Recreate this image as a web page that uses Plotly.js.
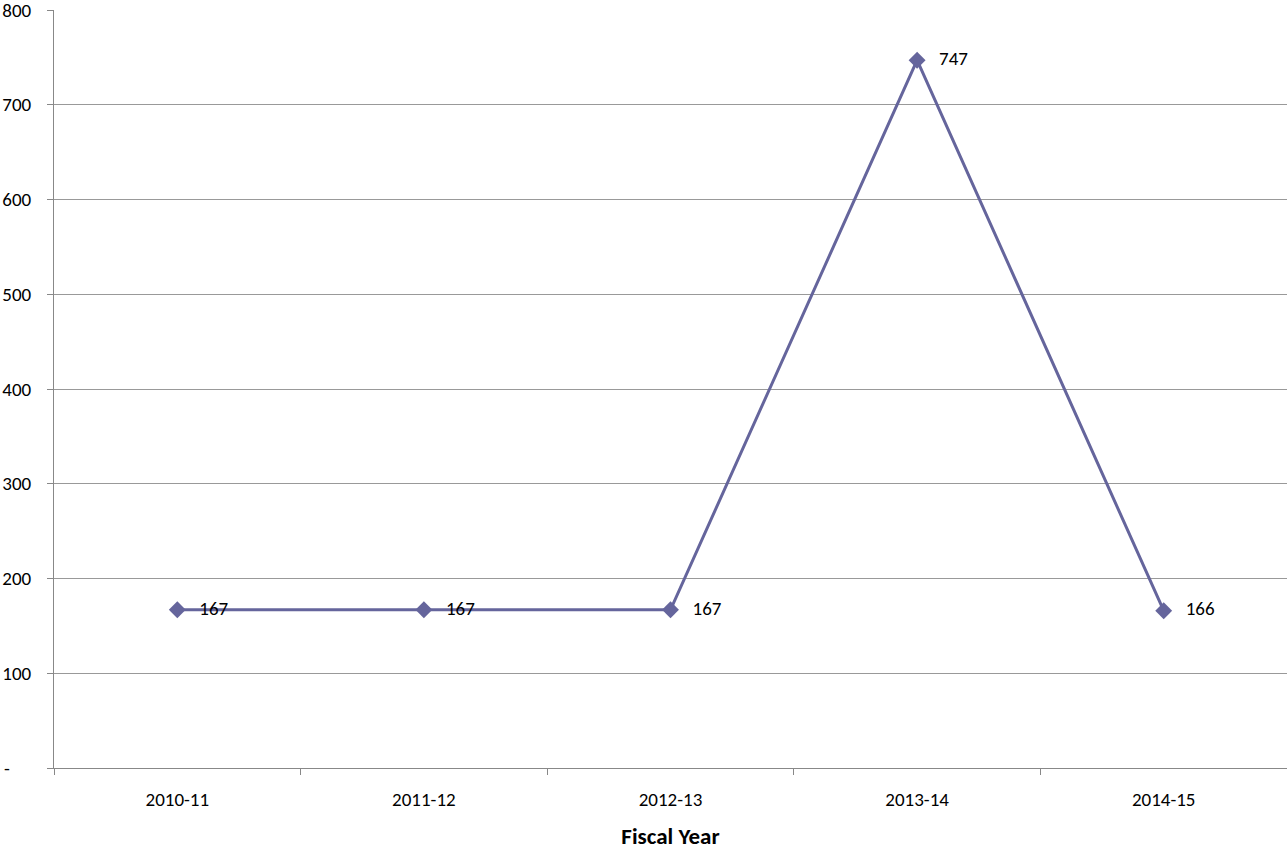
<!DOCTYPE html>
<html>
<head>
<meta charset="utf-8">
<script src="https://cdn.plot.ly/plotly-3.0.1.min.js"></script>
<style>html,body{margin:0;padding:0;background:#fff;}#chart{width:1287px;height:850px;}</style>
</head>
<body>
<div id="chart"></div>
<script>
const fiscalYears = ["2010-11", "2011-12", "2012-13", "2013-14", "2014-15"];
const values = [167, 167, 167, 747, 166];
const yTickVals = [0, 100, 200, 300, 400, 500, 600, 700, 800];
const yTickText = ["-\u00a0\u00a0\u00a0\u00a0\u00a0", "100", "200", "300", "400", "500", "600", "700", "800"];

const font = "Carlito, Lato, 'Open Sans', sans-serif";
const pad = "\u00a0\u00a0\u00a0";
const trace = {
  x: fiscalYears,
  y: values,
  type: "scatter",
  mode: "lines+markers+text",
  text: values.map(v => pad + String(v)),
  textposition: "middle right",
  textfont: {family: font, size: 19, color: "#000"},
  line: {color: "#65659c", width: 3},
  marker: {symbol: "diamond", size: 13, color: "#65659c"},
  cliponaxis: false,
  hoverinfo: "none"
};
const layout = {
  width: 1287, height: 850,
  margin: {l: 54, r: 0, t: 10, b: 82},
  paper_bgcolor: "#fff", plot_bgcolor: "#fff",
  showlegend: false,
  font: {family: font, size: 19, color: "#000"},
  xaxis: {
    type: "category",
    range: [-0.5, 4.5],
    tickson: "boundaries",
    ticks: "outside", ticklen: 6, tickcolor: "#888",
    showline: true, linecolor: "#888", linewidth: 1,
    showgrid: false, zeroline: false,
    tickfont: {family: font, size: 19},
    ticklabelstandoff: 14,
    title: {text: "<b>Fiscal Year</b>", font: {family: font, size: 23}, standoff: 21}
  },
  yaxis: {
    range: [0, 800],
    tickvals: yTickVals, ticktext: yTickText,
    ticks: "outside", ticklen: 6, tickcolor: "#888",
    showline: true, linecolor: "#888", linewidth: 1,
    showgrid: true, gridcolor: "#999", gridwidth: 1,
    zeroline: false,
    tickfont: {family: font, size: 19},
    ticklabelstandoff: 12,
    ticklabeloverflow: "allow"
  }
};
Plotly.newPlot("chart", [trace], layout, {displayModeBar: false, staticPlot: true});
</script>
</body>
</html>
